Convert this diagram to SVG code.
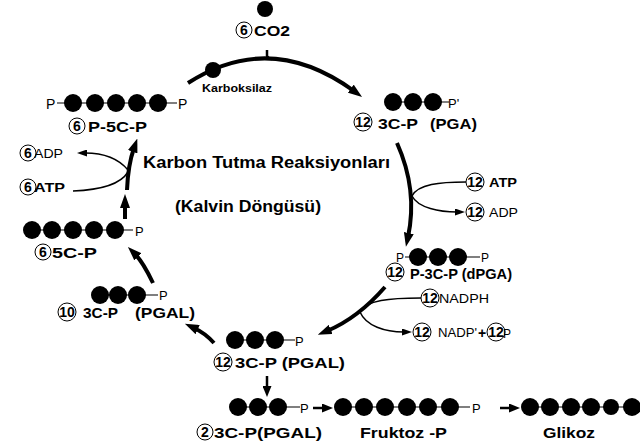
<svg xmlns="http://www.w3.org/2000/svg" width="640" height="447" viewBox="0 0 640 447">
<style>
.b{font-family:"Liberation Sans",Arial,sans-serif;font-weight:bold;fill:#000}
.r{font-family:"Liberation Sans",Arial,sans-serif;fill:#000}
.nb{font-family:"Liberation Sans",Arial,sans-serif;font-weight:bold;font-size:14px;fill:#000;text-anchor:middle}
.num{fill:#fff;stroke:#000;stroke-width:1}
.dot{fill:#000}
.bond{stroke:#000;stroke-width:1.2}
.thick{fill:none;stroke:#000;stroke-width:4}
.med{fill:none;stroke:#000;stroke-width:2.5}
.thin{fill:none;stroke:#000;stroke-width:1.5}
</style>
<defs>
<marker id="ah" viewBox="0 0 14 10" refX="4" refY="5" markerWidth="14" markerHeight="10" markerUnits="userSpaceOnUse" orient="auto"><path d="M0,0 L14,5 L0,10 z" fill="#000"/></marker>
<marker id="am" viewBox="0 0 11 9" refX="2" refY="4.5" markerWidth="11" markerHeight="9" markerUnits="userSpaceOnUse" orient="auto"><path d="M0,0 L11,4.5 L0,9 z" fill="#000"/></marker>
<marker id="at" viewBox="0 0 10 7" refX="2" refY="3.5" markerWidth="10" markerHeight="7" markerUnits="userSpaceOnUse" orient="auto"><path d="M0,0 L10,3.5 L0,7 z" fill="#000"/></marker>
</defs>
<rect width="640" height="447" fill="#fff"/>

<g id="connectors">
<path class="thick" d="M188,83 Q270,30 354,91" marker-end="url(#ah)"/>
<path class="med" d="M267,50 L267,56 Q268,59 272,59"/>
<path class="thick" d="M397,143 Q418,190 408,237" marker-end="url(#ah)"/>
<path class="thin" d="M466,182 C440,182 418,184 412,196"/>
<path class="thin" d="M412,196 C418,208 440,212 457,212" marker-end="url(#at)"/>
<path class="thick" d="M385,287 Q358,318 327,331" marker-end="url(#ah)"/>
<path class="thin" d="M421,298 C390,298 366,300 360,312"/>
<path class="thin" d="M360,312 C366,326 385,332 404,332" marker-end="url(#at)"/>
<path class="thick" d="M214,343 Q205,333 194,328" marker-end="url(#ah)"/>
<path class="med" d="M267,376 L267,388" marker-end="url(#am)"/>
<path class="med" d="M313,408 L324,408" marker-end="url(#am)"/>
<path class="med" d="M500,408 L511,408" marker-end="url(#am)"/>
<path class="thick" d="M153,283 Q143,262 135,254" marker-end="url(#ah)"/>
<path class="thick" d="M125,219 L125,204" marker-end="url(#ah)"/>
<path class="thick" d="M127,190 Q128,165 134,148" marker-end="url(#ah)"/>
<path class="thin" d="M73,191 C100,190 120,185 128,172"/>
<path class="thin" d="M128,170 C118,158 102,153 85,153" marker-end="url(#at)"/>
</g>

<g id="title">
<text class="b" x="143" y="168" font-size="16" textLength="247" lengthAdjust="spacingAndGlyphs">Karbon Tutma Reaksiyonları</text>
<text class="b" x="175" y="212" font-size="16" textLength="146" lengthAdjust="spacingAndGlyphs">(Kalvin Döngüsü)</text>
</g>

<g id="co2">
<circle class="dot" cx="265" cy="9" r="8"/>
<circle class="num" cx="244" cy="30" r="8"/><text class="nb" x="244" y="35">6</text>
<text class="b" x="254" y="36" font-size="15" textLength="36" lengthAdjust="spacingAndGlyphs">CO2</text>
</g>

<g id="karboksilaz">
<circle class="dot" cx="213" cy="70" r="8"/>
<text class="b" x="202" y="92" font-size="11" textLength="70" lengthAdjust="spacingAndGlyphs">Karboksilaz</text>
</g>

<g id="p5cp">
<line class="bond" x1="57" y1="103" x2="177" y2="103"/>
<text class="r" x="46" y="109" font-size="14">P</text>
<circle class="dot" cx="73" cy="103" r="9"/><circle class="dot" cx="95" cy="103" r="9"/><circle class="dot" cx="116" cy="103" r="9"/><circle class="dot" cx="137" cy="103" r="9"/><circle class="dot" cx="158" cy="103" r="9"/>
<text class="r" x="178" y="109" font-size="14">P</text>
<circle class="num" cx="77" cy="126" r="8"/><text class="nb" x="77" y="131">6</text>
<text class="b" x="88" y="132" font-size="15" textLength="59" lengthAdjust="spacingAndGlyphs">P-5C-P</text>
</g>

<g id="pga">
<line class="bond" x1="393" y1="102" x2="449" y2="102"/>
<circle class="dot" cx="393" cy="102" r="9"/><circle class="dot" cx="413" cy="102" r="9"/><circle class="dot" cx="433" cy="102" r="9"/>
<text class="r" x="448" y="108" font-size="13">P'</text>
<circle class="num" cx="363" cy="122" r="9"/><text class="nb" x="363" y="127" font-size="13">12</text>
<text class="b" x="378" y="129" font-size="15" textLength="40" lengthAdjust="spacingAndGlyphs">3C-P</text>
<text class="b" x="430" y="129" font-size="15" textLength="47" lengthAdjust="spacingAndGlyphs">(PGA)</text>
</g>

<g id="atp-right">
<circle class="num" cx="475" cy="182" r="9"/><text class="nb" x="475" y="187" font-size="13">12</text>
<text class="b" x="489" y="187" font-size="12" textLength="28" lengthAdjust="spacingAndGlyphs">ATP</text>
</g>
<g id="adp-right">
<circle class="num" cx="475" cy="212" r="9"/><text class="nb" x="475" y="217" font-size="13">12</text>
<text class="r" x="489" y="217" font-size="12" textLength="29" lengthAdjust="spacingAndGlyphs">ADP</text>
</g>

<g id="dpga">
<line class="bond" x1="405" y1="257" x2="480" y2="257"/>
<text class="r" x="396" y="262" font-size="12">P</text>
<circle class="dot" cx="418" cy="257" r="9"/><circle class="dot" cx="438" cy="257" r="9"/><circle class="dot" cx="458" cy="257" r="9"/>
<text class="r" x="481" y="262" font-size="12">P</text>
<circle class="num" cx="395" cy="272" r="9"/><text class="nb" x="395" y="277" font-size="13">12</text>
<text class="b" x="410" y="279" font-size="15" textLength="102" lengthAdjust="spacingAndGlyphs">P-3C-P (dPGA)</text>
</g>

<g id="nadph">
<circle class="num" cx="430" cy="298" r="9"/><text class="nb" x="430" y="303" font-size="13">12</text>
<text class="r" x="439" y="303" font-size="12" textLength="50" lengthAdjust="spacingAndGlyphs">NADPH</text>
</g>
<g id="nadp">
<circle class="num" cx="422" cy="332" r="9"/><text class="nb" x="422" y="337" font-size="13">12</text>
<text class="r" x="438" y="337" font-size="12" textLength="39" lengthAdjust="spacingAndGlyphs">NADP'</text>
<text class="b" x="478" y="338" font-size="14">+</text>
<circle class="num" cx="496" cy="332" r="9"/><text class="nb" x="496" y="337" font-size="13">12</text>
<text class="r" x="503" y="338" font-size="12">P</text>
</g>

<g id="pgal12">
<line class="bond" x1="235" y1="340" x2="295" y2="340"/>
<circle class="dot" cx="235" cy="340" r="9"/><circle class="dot" cx="255" cy="340" r="9"/><circle class="dot" cx="275" cy="340" r="9"/>
<text class="r" x="295" y="346" font-size="13">P</text>
<circle class="num" cx="223" cy="362" r="9"/><text class="nb" x="223" y="367" font-size="13">12</text>
<text class="b" x="235" y="368" font-size="15" textLength="110" lengthAdjust="spacingAndGlyphs">3C-P (PGAL)</text>
</g>

<g id="pgal10">
<line class="bond" x1="100" y1="295" x2="158" y2="295"/>
<circle class="dot" cx="100" cy="295" r="9"/><circle class="dot" cx="118" cy="295" r="9"/><circle class="dot" cx="137" cy="295" r="9"/>
<text class="r" x="159" y="300" font-size="13">P</text>
<circle class="num" cx="67" cy="312" r="9"/><text class="nb" x="67" y="317" font-size="13">10</text>
<text class="b" x="83" y="318" font-size="15" textLength="35" lengthAdjust="spacingAndGlyphs">3C-P</text>
<text class="b" x="135" y="318" font-size="15" textLength="60" lengthAdjust="spacingAndGlyphs">(PGAL)</text>
</g>

<g id="c5p">
<line class="bond" x1="32" y1="230" x2="133" y2="230"/>
<circle class="dot" cx="32" cy="230" r="9"/><circle class="dot" cx="52" cy="230" r="9"/><circle class="dot" cx="73" cy="230" r="9"/><circle class="dot" cx="94" cy="230" r="9"/><circle class="dot" cx="115" cy="230" r="9"/>
<text class="r" x="135" y="236" font-size="13">P</text>
<circle class="num" cx="43" cy="252" r="8"/><text class="nb" x="43" y="257">6</text>
<text class="b" x="52" y="258" font-size="15" textLength="45" lengthAdjust="spacingAndGlyphs">5C-P</text>
</g>

<g id="atp-left">
<circle class="num" cx="28" cy="187" r="8"/><text class="nb" x="28" y="192">6</text>
<text class="b" x="34" y="192" font-size="12" textLength="31" lengthAdjust="spacingAndGlyphs">ATP</text>
</g>
<g id="adp-left">
<circle class="num" cx="28" cy="153" r="8"/><text class="nb" x="28" y="158">6</text>
<text class="r" x="34" y="158" font-size="12" textLength="29" lengthAdjust="spacingAndGlyphs">ADP</text>
</g>

<g id="pgal2">
<line class="bond" x1="238" y1="407" x2="300" y2="407"/>
<circle class="dot" cx="238" cy="407" r="9"/><circle class="dot" cx="258" cy="407" r="9"/><circle class="dot" cx="278" cy="407" r="9"/>
<text class="r" x="300" y="413" font-size="13">P</text>
<circle class="num" cx="205" cy="432" r="8"/><text class="nb" x="205" y="437">2</text>
<text class="b" x="214" y="438" font-size="15" textLength="108" lengthAdjust="spacingAndGlyphs">3C-P(PGAL)</text>
</g>

<g id="fruktoz">
<line class="bond" x1="343" y1="407" x2="470" y2="407"/>
<circle class="dot" cx="343" cy="407" r="9"/><circle class="dot" cx="364" cy="407" r="9"/><circle class="dot" cx="385" cy="407" r="9"/><circle class="dot" cx="407" cy="407" r="9"/><circle class="dot" cx="428" cy="407" r="9"/><circle class="dot" cx="450" cy="407" r="9"/>
<text class="r" x="472" y="413" font-size="13">P</text>
<text class="b" x="360" y="438" font-size="15" textLength="87" lengthAdjust="spacingAndGlyphs">Fruktoz -P</text>
</g>

<g id="glikoz">
<line class="bond" x1="530" y1="407" x2="640" y2="407"/>
<circle class="dot" cx="530" cy="407" r="9"/><circle class="dot" cx="550" cy="407" r="9"/><circle class="dot" cx="571" cy="407" r="9"/><circle class="dot" cx="591" cy="407" r="9"/><circle class="dot" cx="611" cy="407" r="8"/><circle class="dot" cx="632" cy="407" r="9"/>
<text class="b" x="543" y="438" font-size="15" textLength="52" lengthAdjust="spacingAndGlyphs">Glikoz</text>
</g>
</svg>
